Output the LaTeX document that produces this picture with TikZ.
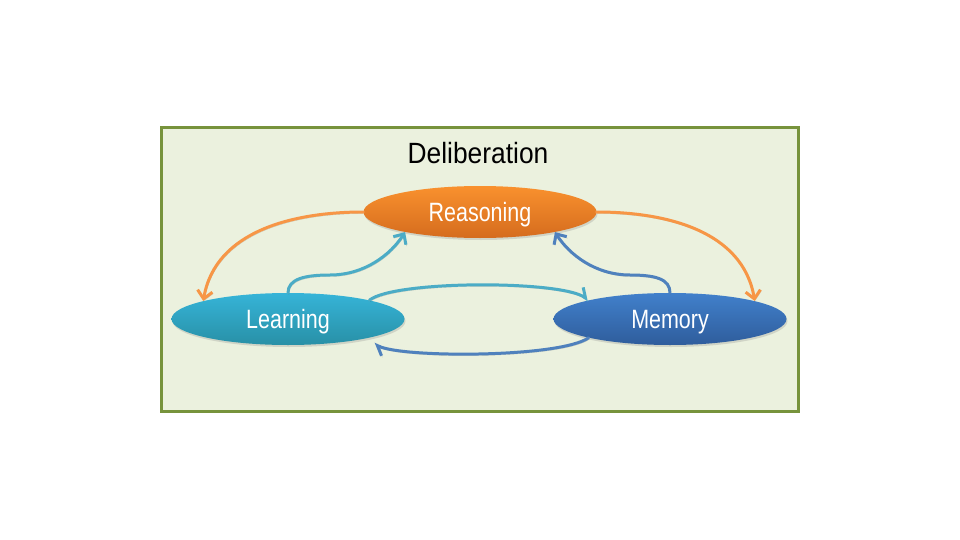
\documentclass[tikz,border=0pt]{standalone}
\usepackage{fontspec}
\setmainfont{Liberation Sans}
\usetikzlibrary{shapes.geometric,arrows.meta,shadows}
\definecolor{boxfill}{HTML}{EBF1DE}
\definecolor{boxline}{HTML}{77933C}
\definecolor{orTop}{HTML}{F9912E}
\definecolor{orBot}{HTML}{D56C1E}
\definecolor{cyTop}{HTML}{36B4D8}
\definecolor{cyBot}{HTML}{2890A6}
\definecolor{blTop}{HTML}{4180CB}
\definecolor{blBot}{HTML}{2F5D9C}
\definecolor{orArr}{HTML}{F79646}
\definecolor{cyArr}{HTML}{4BACC6}
\definecolor{blArr}{HTML}{4F81BD}
\tikzset{
  frame/.style={draw=boxline, line width=3pt, fill=boxfill, minimum width=637pt, minimum height=283pt, inner sep=0pt},
  ell/.style={ellipse, minimum width=233pt, minimum height=52pt, inner sep=0pt, text=white, text depth=0pt,
     font=\fontsize{26.5}{30}\selectfont, drop shadow={shadow xshift=1pt, shadow yshift=-2pt, opacity=0.25}},
  arrshadow/.style={preaction={draw=black, opacity=0.18, transform canvas={xshift=0.8pt, yshift=-1.5pt}}},
  conn/.style={line width=3pt, line cap=round, arrshadow, -{Straight Barb[length=8pt,width=15pt]}},
  half/.style={line width=3pt, line cap=round, arrshadow, -{Straight Barb[left,length=8pt,width=15pt]}},
}
\begin{document}
\begin{tikzpicture}[x=1pt,y=-1pt]
\useasboundingbox (0,0) rectangle (960,540);
\fill[white] (0,0) rectangle (960,540);
\node[frame] (F) at (479.5,269.5) {};
\node[anchor=base, font=\fontsize{29.3}{32}\selectfont] (T) at (478,164) {\scalebox{0.9}[1]{Deliberation}};
\node[ell, top color=orTop, bottom color=orBot] (R) at (480,212) {\scalebox{0.81}[1]{Reasoning}};
\node[ell, top color=cyTop, bottom color=cyBot] (L) at (288,319) {\scalebox{0.81}[1]{Learning}};
\node[ell, top color=blTop, bottom color=blBot] (M) at (670,319) {\scalebox{0.81}[1]{Memory}};
\coordinate (cw) at (330,275);
\coordinate (mw) at (630,275);
\coordinate (lb) at (374,344);
% orange
\draw[conn, draw=orArr] (R.west) .. controls +(-70,0) and +(12,-70) .. (L.168);
\draw[conn, draw=orArr] (R.east) .. controls +(70,0) and +(-12,-70) .. (M.12);
% S curves
\draw[conn, draw=cyArr] (L.north) .. controls +(0,-14) and +(-25,0) .. (cw) .. controls +(35,0) and +(-14,22) .. (R.195);
\draw[conn, draw=blArr] (M.north) .. controls +(0,-14) and +(25,0) .. (mw) .. controls +(-35,0) and +(14,22) .. (R.-15);
% horizontal loop
\draw[half, draw=cyArr] (L.13) .. controls +(25,-20) and +(-29,-20) .. (M.167);
\draw[half, draw=blArr] (M.193) .. controls +(-29,20) and +(30,14) .. (lb);
\end{tikzpicture}
\end{document}
